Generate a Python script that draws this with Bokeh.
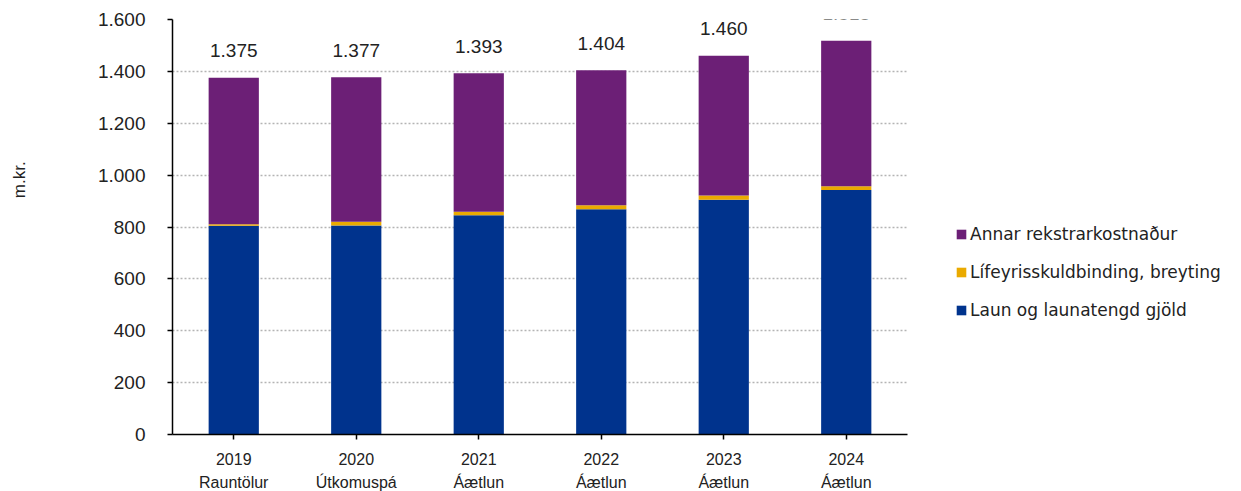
from bokeh.plotting import figure
from bokeh.models import (Legend, LegendItem, ColumnDataSource, FixedTicker, CategoricalAxis,
                          FactorRange)
from bokeh.core.properties import value
from bokeh.embed import file_html
from bokeh.resources import INLINE

years = ["2019", "2020", "2021", "2022", "2023", "2024"]
subtitles = ["Rauntölur", "Útkomuspá", "Áætlun", "Áætlun", "Áætlun", "Áætlun"]
laun = [805, 806, 845, 868, 905, 943]
lifeyris = [6, 14, 14, 16, 16, 14]
annar = [564, 557, 534, 520, 539, 561]
totals = [1375, 1377, 1393, 1404, 1460, 1518]
total_labels = ["1.375", "1.377", "1.393", "1.404", "1.460", "1.518"]
y_ticks = [0, 200, 400, 600, 800, 1000, 1200, 1400, 1600]
y_tick_labels = ["0", "200", "400", "600", "800", "1.000", "1.200", "1.400", "1.600"]
y_title = "m.kr."

series_names = ["Laun og launatengd gjöld", "Lífeyrisskuldbinding, breyting", "Annar rekstrarkostnaður"]
colors = ["#00338D", "#EAAA00", "#6C1F76"]
FONT = "Liberation Sans"
TXT = "#222222"

src = ColumnDataSource(dict(year=years, laun=laun, lif=lifeyris, annar=annar,
                            total=totals, tlabel=total_labels))

p = figure(x_range=years, y_range=(0, 1600), frame_width=735, frame_height=415,
           output_backend="svg", toolbar_location=None,
           min_border_left=172, min_border_top=19, min_border_bottom=55, min_border_right=10)

renderers = p.vbar_stack(["laun", "lif", "annar"], x="year", width=0.41, color=colors,
                         line_color=None, source=src)

p.text(x="year", y="total", text="tlabel", source=src, text_align="center",
       text_baseline="middle", y_offset=-27, text_font=value(FONT),
       text_font_size="19px", text_color=TXT)

p.outline_line_color = None
p.xgrid.grid_line_color = None
p.ygrid.grid_line_color = "#b4b4b4"
p.ygrid.grid_line_dash = "2 2"
p.ygrid.grid_line_width = 1.5
p.ygrid.ticker = FixedTicker(ticks=y_ticks)

p.yaxis.ticker = FixedTicker(ticks=y_ticks)
p.yaxis.major_label_overrides = {t: l for t, l in zip(y_ticks, y_tick_labels)}
p.yaxis.minor_tick_line_color = None
p.yaxis.major_tick_in = 0
p.yaxis.major_tick_out = 5
p.yaxis.major_label_standoff = 22
p.yaxis.axis_line_color = "black"
p.yaxis.axis_line_width = 1.5
p.yaxis.major_tick_line_width = 1.5
p.yaxis.major_label_text_font = FONT
p.yaxis.major_label_text_font_size = "19px"
p.yaxis.major_label_text_color = TXT
# leading no-break spaces lift the visible title above the frame's middle
p.yaxis.axis_label = "\u00a0" * 20 + y_title
p.yaxis.axis_label_standoff = 66
p.yaxis.axis_label_text_font_style = "normal"
p.yaxis.axis_label_text_font = FONT
p.yaxis.axis_label_text_font_size = "17px"
p.yaxis.axis_label_text_color = TXT

p.xaxis.major_tick_in = 0
p.xaxis.major_tick_out = 5
p.xaxis.major_label_standoff = 13
p.xaxis.axis_line_color = "black"
p.xaxis.axis_line_width = 1.5
p.xaxis.major_tick_line_width = 1.5
p.xaxis.major_label_text_font = FONT
p.xaxis.major_label_text_font_size = "16px"
p.xaxis.major_label_text_color = TXT

# second label row: unique (zero-width-space suffixed) factors on an extra range
sub_factors = [s + "\u200b" * i for i, s in enumerate(subtitles)]
p.extra_x_ranges = {"sub": FactorRange(factors=sub_factors)}
sub_axis = CategoricalAxis(x_range_name="sub",
                           axis_line_color=None, major_tick_line_color=None,
                           major_tick_out=0, major_tick_in=0, major_label_standoff=6,
                           major_label_text_font=FONT, major_label_text_font_size="16px",
                           major_label_text_color=TXT)
p.add_layout(sub_axis, "below")

items = [LegendItem(label=series_names[i], renderers=[renderers[i]]) for i in (2, 1, 0)]
legend = Legend(items=items, location=(48, 114), orientation="vertical",
                label_text_font="DejaVu Sans", label_text_font_size="17px", label_text_color=TXT,
                glyph_width=12, glyph_height=12, spacing=18, label_standoff=3,
                border_line_color=None, background_fill_alpha=0, padding=0, margin=0)
p.add_layout(legend, "right")

open("out.html", "w").write(file_html(p, INLINE))
